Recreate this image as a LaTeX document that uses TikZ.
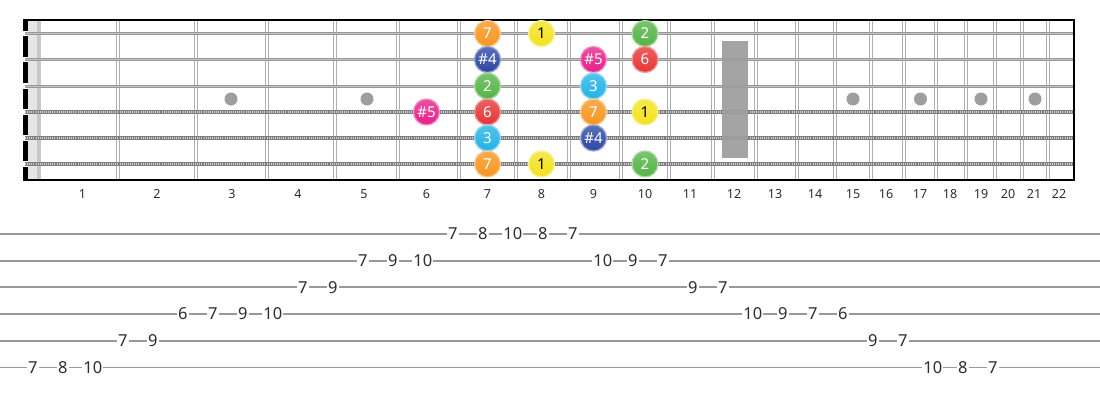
\documentclass[tikz,border=0pt]{standalone}
\usepackage{fontspec}
\setmainfont{Noto Sans}
\definecolor{nOrange}{HTML}{F7951F}
\definecolor{nYellow}{HTML}{F3E21E}
\definecolor{nGreen}{HTML}{54B445}
\definecolor{nBlue}{HTML}{2C47A3}
\definecolor{nMagenta}{HTML}{E61F8A}
\definecolor{nRed}{HTML}{E53535}
\definecolor{nCyan}{HTML}{22B2E6}
\definecolor{fretcol}{HTML}{AFAFAF}
\definecolor{strcol}{HTML}{999999}
\definecolor{strin}{HTML}{C2C2C2}
\definecolor{woundcol}{HTML}{7E7E7E}
\definecolor{woundin}{HTML}{CFCFCF}
\definecolor{markcol}{HTML}{9E9E9E}
\definecolor{tabcol}{HTML}{999999}
\definecolor{txtcol}{HTML}{2E2E2E}
\begin{document}
\begin{tikzpicture}[x=1pt,y=-1pt,
  fretline/.style={draw=fretcol,line width=1.3pt},
  plainstr/.style={draw=strcol,line width=3pt},
  plainin/.style={draw=strin,line width=0.9pt},
  woundstr/.style={draw=woundcol,line width=4.4pt},
  woundin/.style={draw=woundin,line width=2.4pt,dash pattern=on 1pt off 1.1pt},
  tabline/.style={draw=tabcol,line width=1.7pt},
  fretnum/.style={font=\fontsize{12.5}{12.5}\selectfont,text=txtcol,inner sep=0pt},
  tabnum/.style={font=\fontsize{16.5}{16.5}\selectfont,text=txtcol,fill=white,inner sep=1.2pt},
  notedot/.style={circle,minimum size=26pt,inner sep=0pt,font=\fontsize{15}{15}\selectfont,
     text=white,draw=#1!50!white,line width=1.3pt,top color=#1!78!white,bottom color=#1},
  markdot/.style={circle,fill=markcol,minimum size=13pt,inner sep=0pt}
]
\useasboundingbox (0,0) rectangle (1100,400);
\fill[white] (0,0) rectangle (1100,400);
% nut area
\fill[black!10] (28,20) rectangle (41,180);
\fill[black!22] (37,20) rectangle (41,180);
\fill[black] (23,20) rectangle (28,180);
\foreach \s in {33.5,59.5,86,112,138,164}{
  \fill[white] (23,\s-2.6) rectangle (28,\s+2.6);
}
% frets (double lines)
\foreach \x in {118,196,267,335,398,459,516,569,621,669,713,756,797,835,871,904,936,966,995,1022,1048}{
  \draw[fretline] (\x-1.7,20) -- (\x-1.7,180);
  \draw[fretline] (\x+1.7,20) -- (\x+1.7,180);
}
% inlay markers
\foreach \x/\n in {231/3,367/5,853/15,920.5/17,981/19,1035/21}{
  \node[markdot] (m\n) at (\x,99) {};
}
% strings
\foreach \s/\n in {33.5/1,59.5/2,86/3}{
  \coordinate (sa\n) at (25,\s);
  \coordinate (sb\n) at (1075,\s);
  \draw[plainstr] (sa\n) -- (sb\n);
  \draw[plainin] (sa\n) -- (sb\n);
}
\foreach \s/\n in {112/4,138/5,164/6}{
  \coordinate (sa\n) at (25,\s);
  \coordinate (sb\n) at (1075,\s);
  \draw[woundstr] (sa\n) -- (sb\n);
  \draw[woundin] (sa\n) -- (sb\n);
}
% 12th fret block
\fill[markcol,fill opacity=0.93] (722,41) rectangle (748,158);
% borders
\draw[black,line width=2pt] (23,20) -- (1075,20);
\draw[black,line width=2.6pt] (913,20) -- (1020,20);
\draw[black,line width=2pt] (23,180) -- (1075,180);
\draw[black,line width=2pt] (1074,19) -- (1074,181);
% fret numbers
\foreach \n/\x in {1/82.5,2/157,3/232,4/298,5/364,6/426.5,7/487.5,8/541.5,9/593.5,10/645,11/690,12/734,13/775,14/815,15/853,16/886,17/920,18/950,19/981,20/1008,21/1034,22/1059}{
  \node[fretnum] (f\n) at (\x,194) {\n};
}
% notes
\node[notedot=nOrange] (n1a) at (487.5,33.5) {7};
\node[notedot=nYellow,text=black] (n1b) at (541.5,33.5) {1};
\node[notedot=nGreen] (n1c) at (645,33.5) {2};
\node[notedot=nBlue] (n2a) at (487.5,59.5) {\#4};
\node[notedot=nMagenta] (n2b) at (593.5,59.5) {\#5};
\node[notedot=nRed] (n2c) at (645,59.5) {6};
\node[notedot=nGreen] (n3a) at (487.5,86) {2};
\node[notedot=nCyan] (n3b) at (593.5,86) {3};
\node[notedot=nMagenta] (n4a) at (426.5,112) {\#5};
\node[notedot=nRed] (n4b) at (487.5,112) {6};
\node[notedot=nOrange] (n4c) at (593.5,112) {7};
\node[notedot=nYellow,text=black] (n4d) at (645,112) {1};
\node[notedot=nCyan] (n5a) at (487.5,138) {3};
\node[notedot=nBlue] (n5b) at (593.5,138) {\#4};
\node[notedot=nOrange] (n6a) at (487.5,164) {7};
\node[notedot=nYellow,text=black] (n6b) at (541.5,164) {1};
\node[notedot=nGreen] (n6c) at (645,164) {2};
% tab lines
\foreach \l in {1,...,6}{
  \coordinate (ta\l) at (0,{234+(\l-1)*26.67});
  \coordinate (tb\l) at (1100,{234+(\l-1)*26.67});
  \draw[tabline] (ta\l) -- (tb\l);
}
% tab numbers
\foreach \i/\l/\v in {0/6/7,1/6/8,2/6/10,3/5/7,4/5/9,5/4/6,6/4/7,7/4/9,8/4/10,9/3/7,10/3/9,11/2/7,12/2/9,13/2/10,14/1/7,15/1/8,16/1/10,17/1/8,18/1/7,19/2/10,20/2/9,21/2/7,22/3/9,23/3/7,24/4/10,25/4/9,26/4/7,27/4/6,28/5/9,29/5/7,30/6/10,31/6/8,32/6/7}{
  \node[tabnum] (t\i) at ({32.8+30*\i},{234+(\l-1)*26.67}) {\v};
}
\end{tikzpicture}
\end{document}
